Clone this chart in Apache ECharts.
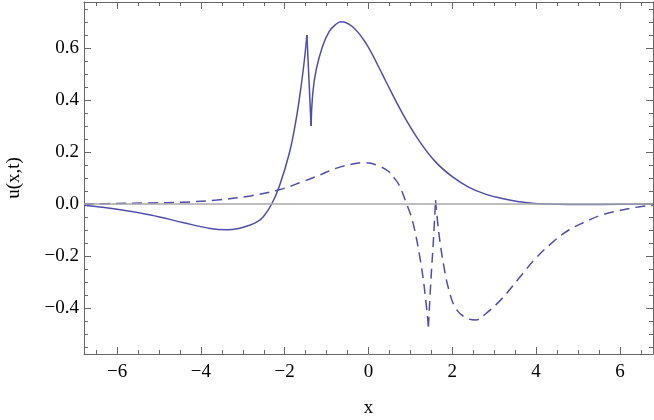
<!DOCTYPE html>
<html>
<head>
<meta charset="utf-8">
<script src="https://cdn.jsdelivr.net/npm/echarts@6/dist/echarts.min.js"></script>
<style>
  html, body { margin: 0; padding: 0; background: #fff; }
  #chart { width: 654px; height: 420px; }
</style>
</head>
<body>
<div id="chart"></div>
<script>
// solid curve
const xSolid = [-6.79, -6.0, -5.2, -4.41, -3.78, -3.38, -3.1, -2.82, -2.65, -2.51, -2.31,
  -2.13, -1.89, -1.73, -1.61, -1.53, -1.47, -1.37, -1.33, -1.25, -1.10, -0.94, -0.8,
  -0.66, -0.38, -0.06, 0.25, 0.41, 0.81, 1.21, 1.6, 2.0, 2.4,
  2.79, 3.19, 3.59, 4.06, 5.09, 6.0, 6.79];
const uSolid = [-0.005, -0.02, -0.042, -0.072, -0.094, -0.099, -0.094, -0.081, -0.068, -0.049, 0.0,
  0.067, 0.195, 0.323, 0.451, 0.554, 0.65, 0.30, 0.426, 0.515, 0.605, 0.663, 0.688,
  0.701, 0.682, 0.618, 0.525, 0.473, 0.349, 0.243, 0.162, 0.105, 0.064,
  0.038, 0.021, 0.009, 0.001, -0.002, -0.001, 0.0];
const solidCusps = [-1.47, -1.37];

// dashed curve
const xDashed = [-6.79, -6.0, -5.2, -4.41, -3.62, -2.82, -2.15, -1.57, -1.17, -0.78, -0.38, -0.06,
  0.25, 0.49, 0.6, 0.73, 0.91, 1.05, 1.21, 1.33, 1.43, 1.49, 1.55, 1.6, 1.68, 1.8, 1.92, 2.08, 2.32, 2.56,
  2.79, 3.19, 3.59, 3.99, 4.38, 4.78, 5.18, 5.57, 5.97, 6.37, 6.79];
const uDashed = [0.0, 0.002, 0.004, 0.007, 0.015, 0.031, 0.054, 0.086, 0.111, 0.137, 0.154, 0.159,
  0.146, 0.124, 0.103, 0.073, 0.0, -0.065, -0.19, -0.318, -0.472, -0.292, -0.138, 0.015, -0.113, -0.241, -0.331, -0.401, -0.437, -0.446,
  -0.423, -0.363, -0.286, -0.209, -0.149, -0.1, -0.068, -0.042, -0.026, -0.013, -0.005];
const dashedCusps = [1.43, 1.6];

const xRange = [-6.79, 6.79];
const yRange = [-0.577, 0.777];
const xMajorStep = 2;
const yMajorStep = 0.2;

const font = 'Liberation Serif';
const frameColor = '#666';
const lineColor = '#4e4eaa';

function isMajor(v, step) {
    const r = v / step;
    return Math.abs(r - Math.round(r)) < 1e-6;
}
function fmt(v, digits) {
    const s = Math.abs(v).toFixed(digits);
    return v < -1e-9 ? '\u2212' + s : s;
}

// split a curve at its cusps so the smoothing keeps them sharp
function pieces(xs, ys, cusps) {
    const out = [];
    let cur = [];
    xs.forEach((x, i) => {
        cur.push([x, ys[i]]);
        if (cusps.includes(x)) {
            out.push(cur);
            cur = [[x, ys[i]]];
        }
    });
    out.push(cur);
    return out;
}

function xAxisDef(pos, major) {
    return {
        type: 'value',
        position: pos,
        min: xRange[0],
        max: xRange[1],
        splitNumber: major ? 7 : 27,
        axisLine: { show: major, onZero: false, lineStyle: { color: frameColor, width: 1 } },
        axisTick: { show: true, inside: true, length: major ? 7 : 4, lineStyle: { color: frameColor } },
        axisLabel: {
            show: major && pos === 'bottom',
            margin: 9,
            fontFamily: font,
            fontSize: 19,
            color: '#000',
            formatter: v => isMajor(v, xMajorStep) ? fmt(v, 0) : ''
        },
        splitLine: { show: false },
        name: major && pos === 'bottom' ? 'x' : '',
        nameLocation: 'middle',
        nameGap: 45,
        nameTextStyle: { fontFamily: font, fontSize: 19, color: '#000' }
    };
}

function yAxisDef(pos, major) {
    return {
        type: 'value',
        position: pos,
        min: yRange[0],
        max: yRange[1],
        splitNumber: major ? 7 : 27,
        axisLine: { show: major, onZero: false, lineStyle: { color: frameColor, width: 1 } },
        axisTick: { show: true, inside: true, length: major ? 7 : 4, lineStyle: { color: frameColor } },
        axisLabel: {
            show: major && pos === 'left',
            margin: 5,
            fontFamily: font,
            fontSize: 19,
            color: '#000',
            formatter: v => isMajor(v, yMajorStep) ? fmt(v, 1) : ''
        },
        splitLine: { show: false },
        name: major && pos === 'left' ? 'u(x,t)' : '',
        nameLocation: 'middle',
        nameRotate: 90,
        nameGap: 60,
        nameTextStyle: { fontFamily: font, fontSize: 19, color: '#000' }
    };
}

function curveSeries(data, dashed, withZeroLine) {
    const s = {
        type: 'line',
        xAxisIndex: 0,
        yAxisIndex: 0,
        data: data,
        showSymbol: false,
        smooth: 0.4,
        lineStyle: { color: lineColor, width: 1.5, type: dashed ? [10, 6] : 'solid' },
        z: 3
    };
    if (withZeroLine) {
        s.markLine = {
            silent: true,
            symbol: 'none',
            label: { show: false },
            lineStyle: { color: '#a8a8a8', width: 1.5, type: 'solid' },
            data: [{ yAxis: 0 }]
        };
    }
    return s;
}

const series = [];
pieces(xSolid, uSolid, solidCusps).forEach((p, i) => series.push(curveSeries(p, false, i === 0)));
pieces(xDashed, uDashed, dashedCusps).forEach(p => series.push(curveSeries(p, true, false)));

const chart = echarts.init(document.getElementById('chart'));
const option = {
    animation: false,
    grid: { left: 84, right: 1, top: 2, bottom: 66, containLabel: false, outerBoundsMode: 'none' },
    xAxis: [xAxisDef('bottom', true), xAxisDef('bottom', false), xAxisDef('top', true), xAxisDef('top', false)],
    yAxis: [yAxisDef('left', true), yAxisDef('left', false), yAxisDef('right', true), yAxisDef('right', false)],
    series: series
};
chart.setOption(option);
</script>
</body>
</html>
